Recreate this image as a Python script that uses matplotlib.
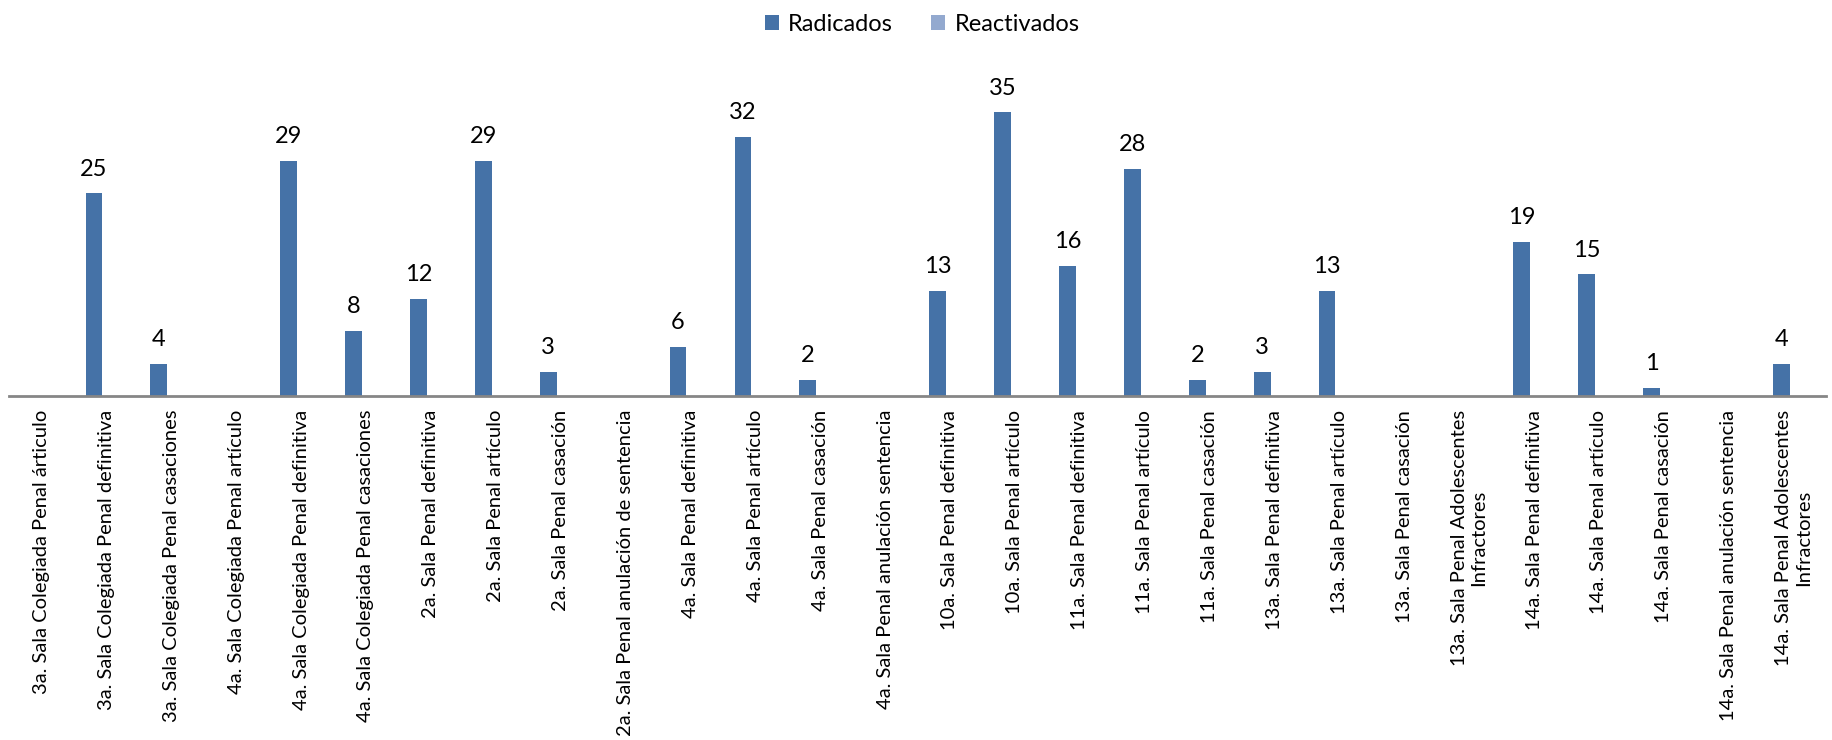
"""
Radicados / Reactivados por sala penal
"""
import matplotlib.pyplot as plt
import numpy as np

plt.rcParams["font.family"] = ["Lato", "DejaVu Sans"]

# Categories and values
categories = [
    "3a. Sala Colegiada Penal árticulo",
    "3a. Sala Colegiada Penal definitiva",
    "3a. Sala Colegiada Penal casaciones",
    "4a. Sala Colegiada Penal artículo",
    "4a. Sala Colegiada Penal definitiva",
    "4a. Sala Colegiada Penal casaciones",
    "2a. Sala Penal definitiva",
    "2a. Sala Penal artículo",
    "2a. Sala Penal casación",
    "2a. Sala Penal anulación de sentencia",
    "4a. Sala Penal definitiva",
    "4a. Sala Penal artículo",
    "4a. Sala Penal casación",
    "4a. Sala Penal anulación sentencia",
    "10a. Sala Penal definitiva",
    "10a. Sala Penal artículo",
    "11a. Sala Penal definitiva",
    "11a. Sala Penal artículo",
    "11a. Sala Penal casación",
    "13a. Sala Penal definitiva",
    "13a. Sala Penal artículo",
    "13a. Sala Penal casación",
    "13a. Sala Penal Adolescentes\nInfractores",
    "14a. Sala Penal definitiva",
    "14a. Sala Penal artículo",
    "14a. Sala Penal casación",
    "14a. Sala Penal anulación sentencia",
    "14a. Sala Penal Adolescentes\nInfractores",
]
radicados = [0, 25, 4, 0, 29, 8, 12, 29, 3, 0, 6, 32, 2, 0,
             13, 35, 16, 28, 2, 3, 13, 0, 0, 19, 15, 1, 0, 4]
reactivados = [0] * len(categories)

# Plot
fig = plt.figure(figsize=(18.33, 7.4), dpi=100)
ax = fig.add_axes([0.0049, 0.4649, 0.9913, 0.4378])

x = np.arange(len(categories))
w = 0.26
bars_rad = ax.bar(x - 0.19, radicados, w, color="#4572A7", label="Radicados")
bars_rea = ax.bar(x - 0.19 + w, reactivados, w, color="#93A9CF", label="Reactivados")

ax.bar_label(bars_rad, labels=[str(v) if v else "" for v in radicados],
             padding=10, fontsize=17)

ax.set_xlim(-0.5, len(categories) - 0.5)
ax.set_ylim(0, 40)
ax.set_yticks([])
for side in ["top", "right", "left"]:
    ax.spines[side].set_visible(False)
ax.spines["bottom"].set_color("#868686")
ax.spines["bottom"].set_linewidth(2)

ax.set_xticks(x)
ax.set_xticklabels(categories, rotation=90, fontsize=14.5, multialignment="center")
ax.tick_params(axis="x", length=0, pad=10)

fig.legend(handles=[bars_rad, bars_rea], loc="upper center", ncol=2,
           frameon=False, bbox_to_anchor=(0.503, 1.01), fontsize=17,
           handlelength=0.6, handleheight=0.6, columnspacing=1.6,
           handletextpad=0.4)

plt.savefig("out.png")
